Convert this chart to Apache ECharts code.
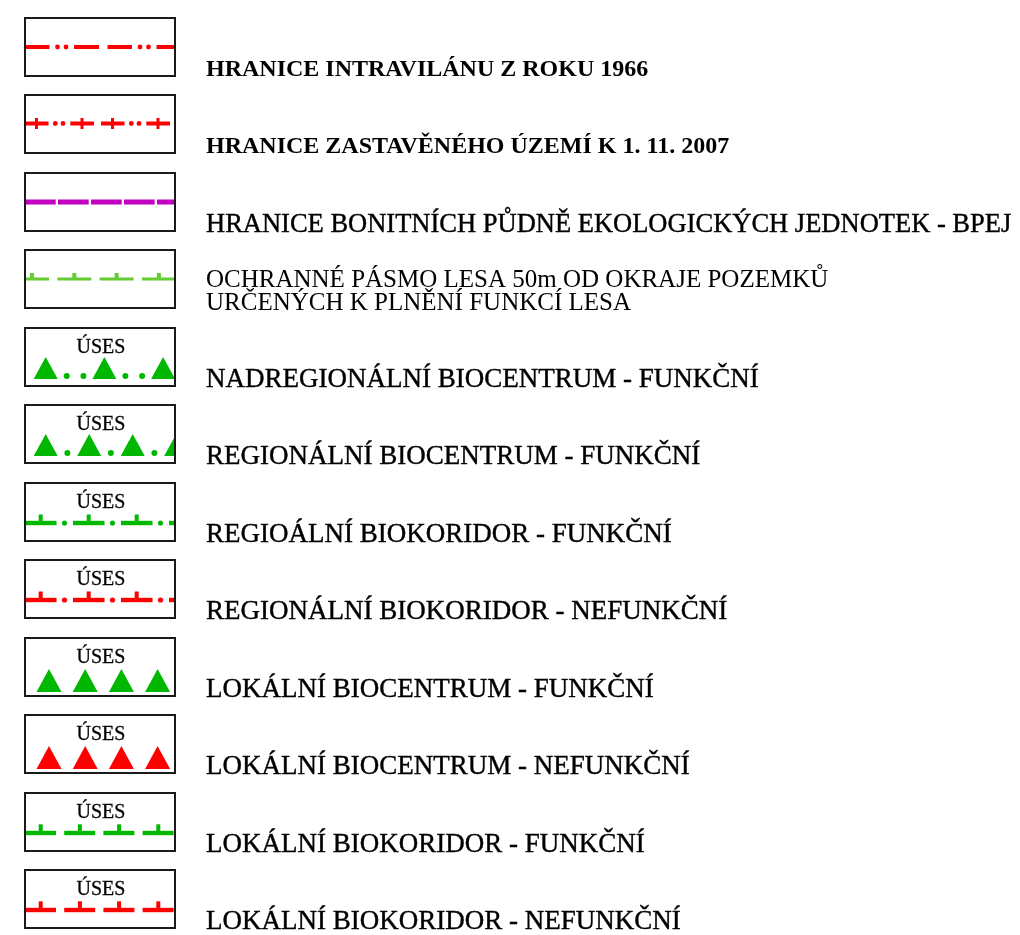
<!DOCTYPE html>
<html>
<head>
<meta charset="utf-8">
<title>Legenda</title>
<script src="https://cdn.jsdelivr.net/npm/echarts@6.0.0/dist/echarts.min.js"></script>
<style>
html, body { margin: 0; padding: 0; background: #fff; }
#legenda { width: 1020px; height: 935px; }
</style>
</head>
<body>
<div id="legenda"></div>
<script>
// popisky legendy, shora dolu
const labels = [
    'HRANICE INTRAVILÁNU Z ROKU 1966',
    'HRANICE ZASTAVĚNÉHO ÚZEMÍ K 1. 11. 2007',
    'HRANICE BONITNÍCH PŮDNĚ EKOLOGICKÝCH JEDNOTEK - BPEJ',
    'OCHRANNÉ PÁSMO LESA 50m OD OKRAJE POZEMKŮ\nURČENÝCH K PLNĚNÍ FUNKCÍ LESA',
    'NADREGIONÁLNÍ BIOCENTRUM - FUNKČNÍ',
    'REGIONÁLNÍ BIOCENTRUM - FUNKČNÍ',
    'REGIOÁLNÍ BIOKORIDOR - FUNKČNÍ',
    'REGIONÁLNÍ BIOKORIDOR - NEFUNKČNÍ',
    'LOKÁLNÍ BIOCENTRUM - FUNKČNÍ',
    'LOKÁLNÍ BIOCENTRUM - NEFUNKČNÍ',
    'LOKÁLNÍ BIOKORIDOR - FUNKČNÍ',
    'LOKÁLNÍ BIOKORIDOR - NEFUNKČNÍ'
]
// druh znacky v ramecku
const symbols = ['intravilan', 'zastaveno', 'bpej', 'les', 'nadregBC', 'regBC',
    'regBK', 'regBK', 'lokBC', 'lokBC', 'lokBK', 'lokBK']
const colors = ['#ff0000', '#ff0000', '#c200c2', '#66cc33', '#00b800', '#00b800',
    '#00b800', '#ff0000', '#00b800', '#ff0000', '#00b800', '#ff0000']
// radky s nadpisem USES v ramecku
const usesRows = [0, 0, 0, 0, 1, 1, 1, 1, 1, 1, 1, 1]
// pismo popisku (prvni dva radky tucne)
const labelFonts = ['bold 24px', 'bold 24px', '26.5px', '25px', '27px', '27px',
    '27px', '27px', '27px', '27px', '27px', '27px']
// zesileni tahu u obycejneho rezu
const labelStroke = [0, 0, 0.4, 0, 0.4, 0.4, 0.4, 0.4, 0.4, 0.4, 0.4, 0.4]

const rows = labels.map((l, i) => [i])

const seg = (x0, x1, cy, lw, c) => ({ type: 'rect', shape: { x: x0, y: cy - lw / 2, width: x1 - x0, height: lw }, style: { fill: c } })
const dot = (cx, cy, r, c) => ({ type: 'circle', shape: { cx: cx, cy: cy, r: r }, style: { fill: c } })
const tri = (cx, base, bw, th, c) => ({ type: 'polygon', shape: { points: [[cx - bw / 2, base], [cx + bw / 2, base], [cx, base - th]] }, style: { fill: c } })
const tick = (cx, y0, y1, tw, c) => ({ type: 'rect', shape: { x: cx - tw / 2, y: y0, width: tw, height: y1 - y0 }, style: { fill: c } })

// kresleni vzoru uvnitr ramecku (x, y = levy horni roh)
const drawSymbol = (kind, x, y, w, c) => {
    const out = []
    let cy
    switch (kind) {
        case 'intravilan':
            cy = y + 30
            for (let s = x + 1; s < x + w; s += 82.5) {
                out.push(seg(s, s + 24.5, cy, 4, c), dot(s + 32.5, cy, 2.4, c), dot(s + 41, cy, 2.4, c), seg(s + 49, s + 74, cy, 4, c))
            }
            break
        case 'zastaveno':
            cy = y + 29.5
            for (let s = x + 1; s < x + w; s += 76) {
                out.push(seg(s, s + 23.5, cy, 4, c), tick(s + 11.5, cy - 5.5, cy + 5.5, 3, c))
                out.push(dot(s + 30.3, cy, 2.4, c), dot(s + 38, cy, 2.4, c))
                out.push(seg(s + 45.3, s + 69, cy, 4, c), tick(s + 57, cy - 5.5, cy + 5.5, 3, c))
            }
            break
        case 'bpej':
            cy = y + 30
            for (let s = x + 1; s < x + w; s += 33) out.push(seg(s, s + 30.7, cy, 5, c))
            break
        case 'les':
            cy = y + 30
            for (let m = x + 8; m < x + w + 17; m += 42.3) {
                out.push(seg(m - 17, m + 17, cy, 3, c), tick(m, cy - 6, cy, 4, c))
            }
            break
        case 'nadregBC':
            for (let m = x + 21.7; m < x + w + 12; m += 58.7) {
                out.push(tri(m, y + 52, 24, 22, c), dot(m + 21, y + 49, 3, c), dot(m + 37.7, y + 49, 3, c))
            }
            break
        case 'regBC':
            for (let m = x + 21.7; m < x + w + 12; m += 43.5) {
                out.push(tri(m, y + 52, 24, 22, c), dot(m + 21.7, y + 49, 3, c))
            }
            break
        case 'regBK':
            cy = y + 41
            for (let s = x + 1; s < x + w; s += 48) {
                out.push(seg(s, s + 31.5, cy, 4.4, c), tick(s + 15.7, y + 32.5, cy, 4, c), dot(s + 39.5, cy, 2.6, c))
            }
            break
        case 'lokBC':
            for (let m = x + 25; m < x + w; m += 36.2) out.push(tri(m, y + 55, 25, 23, c))
            break
        case 'lokBK':
            cy = y + 41
            for (let s = x + 1; s < x + w; s += 39.2) {
                out.push(seg(s, s + 31, cy, 4.4, c), tick(s + 15.7, y + 32.3, cy, 4, c))
            }
            break
    }
    return out
}

const renderItem = (params, api) => {
    const i = api.value(0)
    const p0 = api.coord([0, i])
    const p1 = api.coord([1, i])
    const x = Math.round(p0[0])
    const y = Math.round(p0[1])
    const w = Math.round(p1[0] - p0[0])
    const h = 60
    const children = [
        {
            type: 'group',
            clipPath: { type: 'rect', shape: { x: x + 2, y: y + 2, width: w - 4, height: h - 4 } },
            children: drawSymbol(symbols[i], x, y, w, colors[i])
        },
        {
            type: 'rect',
            shape: { x: x + 1, y: y + 1, width: w - 2, height: h - 2 },
            style: { fill: 'none', stroke: '#1a1a1a', lineWidth: 2 }
        }
    ]
    if (usesRows[i]) {
        children.push({
            type: 'text',
            style: {
                text: 'ÚSES', x: x + w / 2 + 1, y: y + 21, fill: '#000',
                stroke: '#000', lineWidth: 0.3,
                font: '20px "Liberation Serif"', align: 'center', textAlign: 'center',
                verticalAlign: 'middle', textVerticalAlign: 'middle'
            }
        })
    }
    const twoLines = labels[i].indexOf('\n') >= 0
    const label = {
        text: labels[i], x: x + w + 30, y: twoLines ? y + 43 : y + 53, fill: '#000',
        font: labelFonts[i] + ' "Liberation Serif"', lineHeight: 23,
        align: 'left', textAlign: 'left', verticalAlign: 'middle', textVerticalAlign: 'middle'
    }
    if (labelStroke[i]) {
        label.stroke = '#000'
        label.lineWidth = labelStroke[i]
    }
    children.push({ type: 'text', style: label })
    return { type: 'group', children: children }
}

let myChart = echarts.init(document.getElementById('legenda'), null, { renderer: 'canvas' })
myChart.setOption({
    backgroundColor: '#fff',
    animation: false,
    // 11 roztecu radku po 77.45 px, posledni ramecek lezi pod mrizkou
    grid: { left: 24, top: 17, width: 152, height: 852 },
    xAxis: { type: 'value', min: 0, max: 1, show: false },
    yAxis: { type: 'value', min: 0, max: 11, inverse: true, show: false },
    series: [{
        type: 'custom',
        renderItem: renderItem,
        data: rows,
        clip: false,
        silent: true
    }]
})
</script>
</body>
</html>
